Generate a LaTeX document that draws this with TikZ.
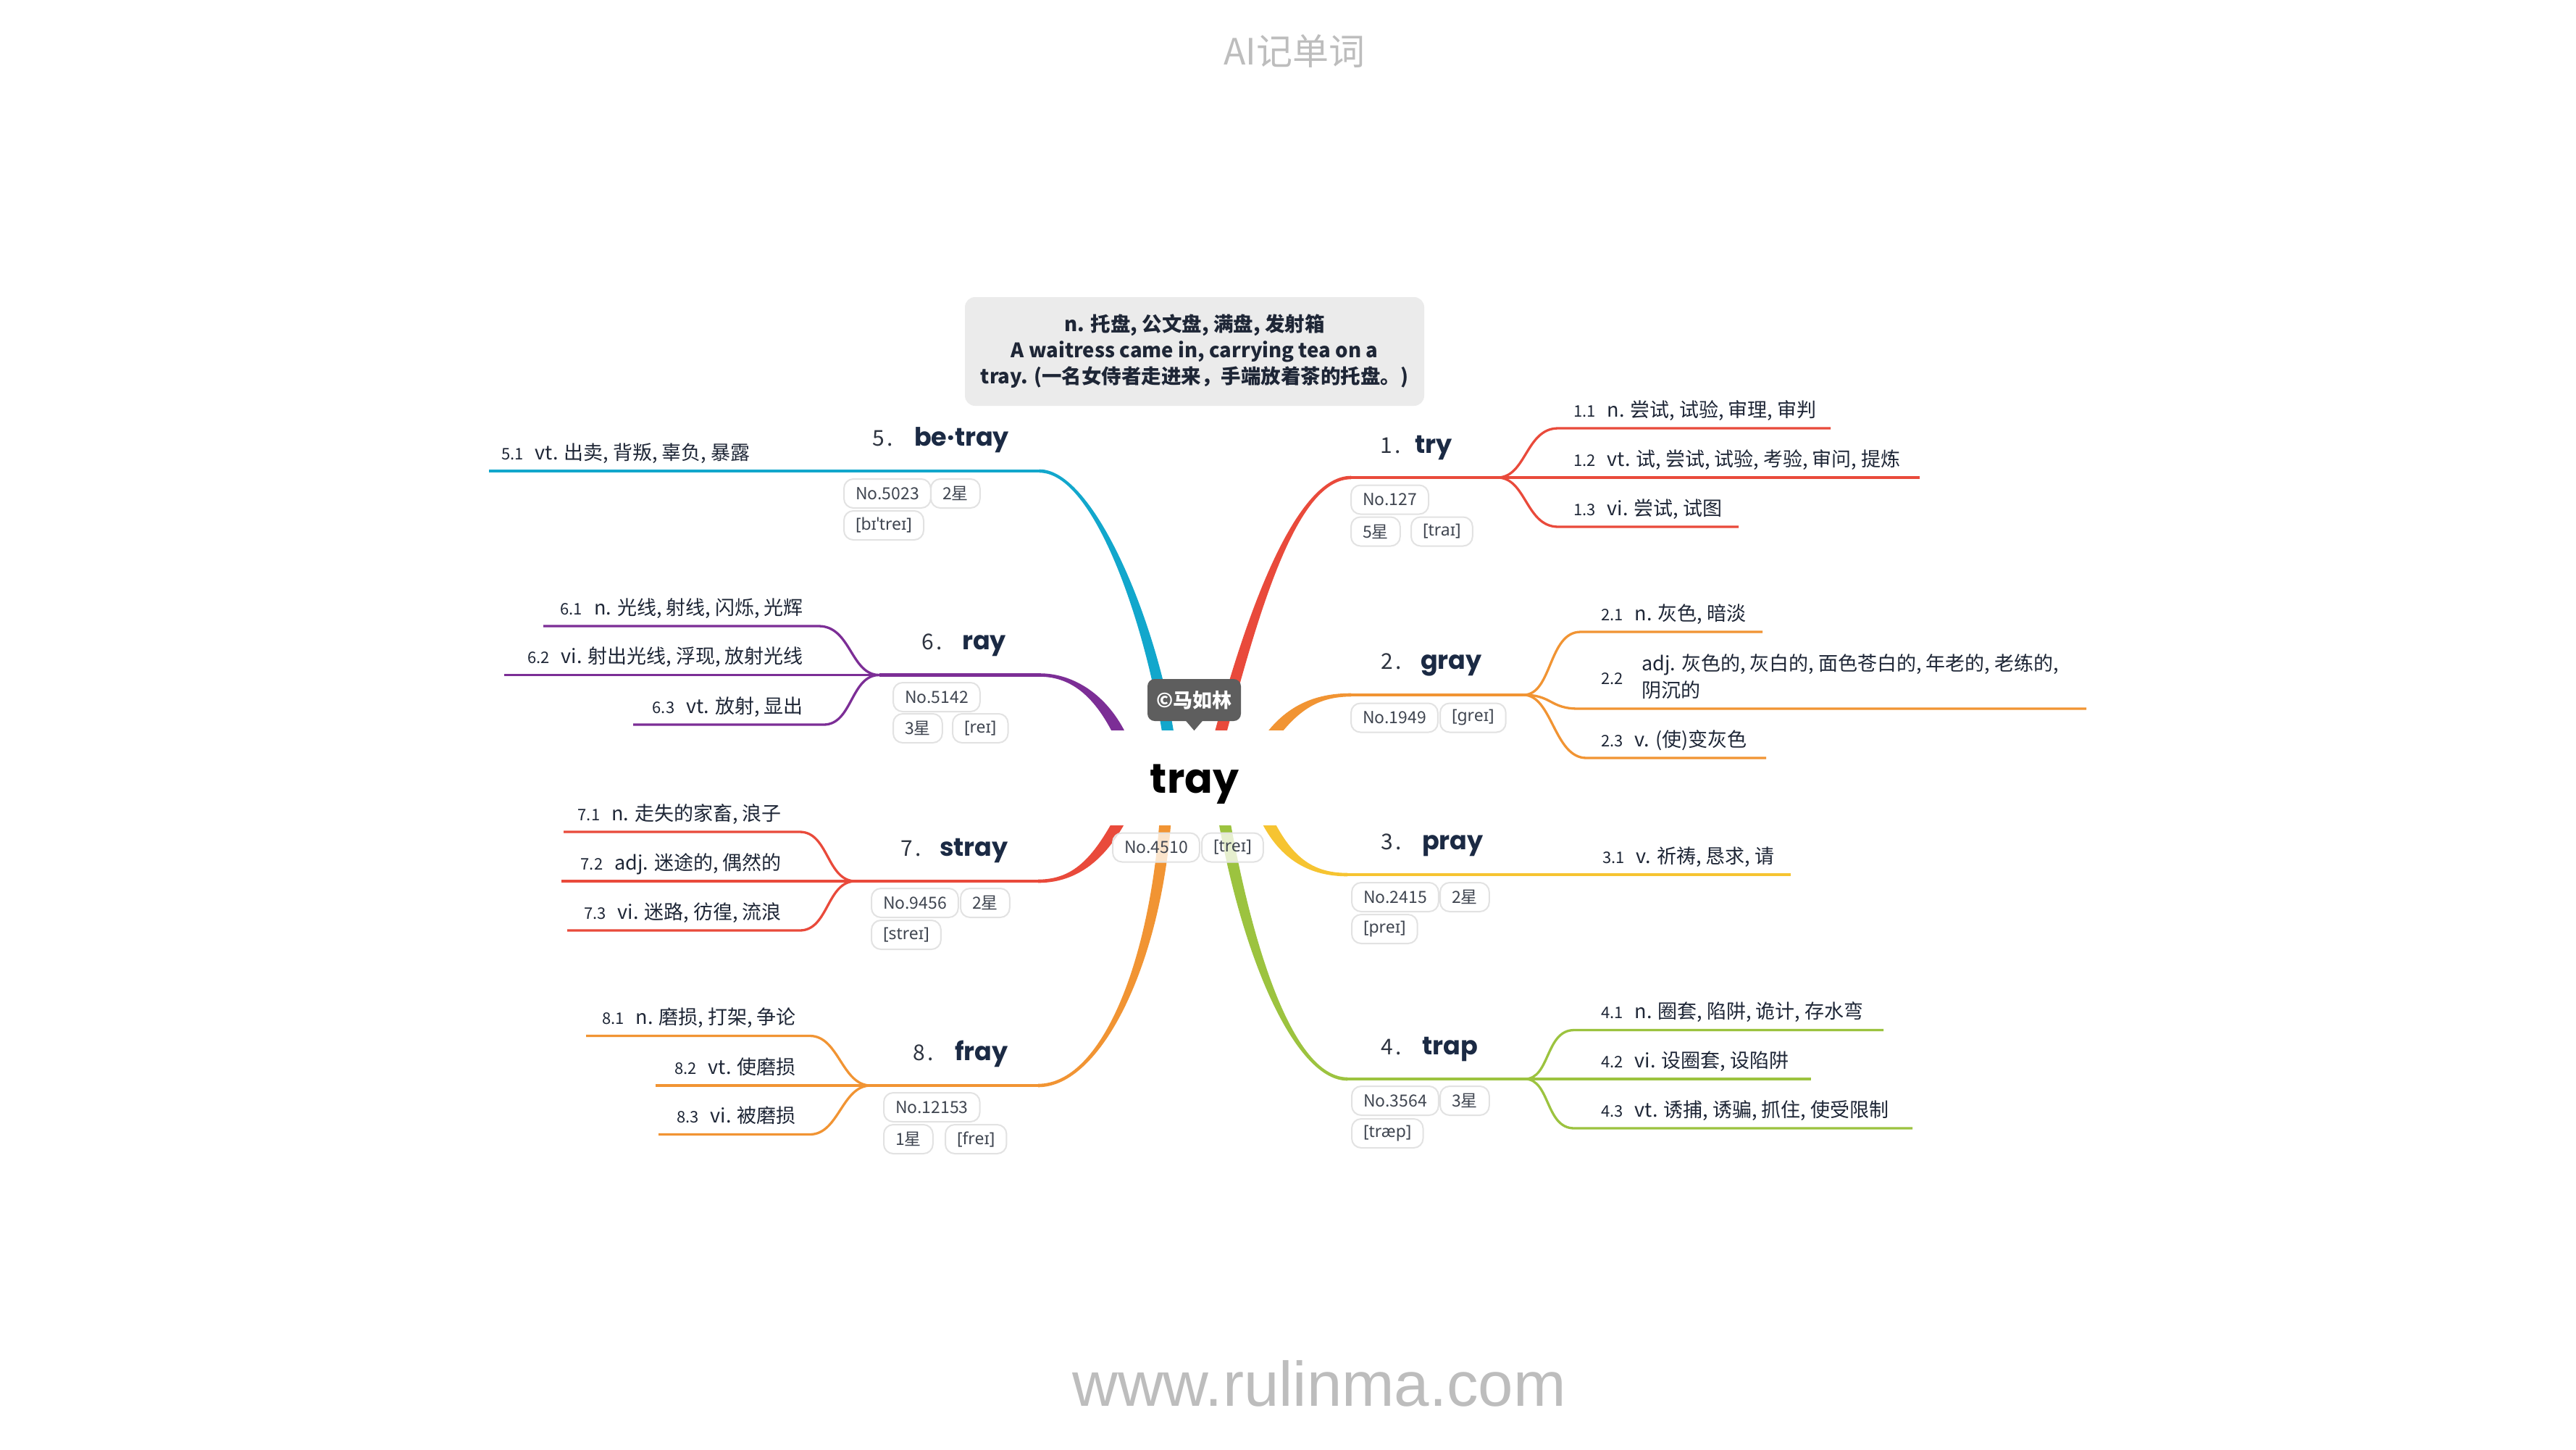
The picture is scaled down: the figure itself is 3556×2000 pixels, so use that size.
\documentclass[tikz,border=0pt]{standalone}
\usepackage{fontspec}
\setmainfont{Noto Sans CJK SC}
\newfontfamily\popf{Poppins}
\newfontfamily\ipaf{Noto Sans}
\newfontfamily\webf{Liberation Sans}
\usetikzlibrary{calc}
\definecolor{cRed}{HTML}{E94A3B}
\definecolor{cOrange}{HTML}{F19433}
\definecolor{cYellow}{HTML}{F6C431}
\definecolor{cGreen}{HTML}{9CC33F}
\definecolor{cCyan}{HTML}{12A7CC}
\definecolor{cPurple}{HTML}{7C2E96}
\definecolor{pillb}{HTML}{E2E2E2}
\definecolor{pillt}{HTML}{3F4550}
\definecolor{headc}{HTML}{1B2A44}
\definecolor{defc}{HTML}{1E2636}
\definecolor{numc}{HTML}{2E3440}
\definecolor{boxg}{HTML}{EBEBEB}
\definecolor{copyg}{HTML}{5E5E5E}
\definecolor{titleg}{HTML}{BDBDBD}
\newcommand\mmtaper[7]{%
  \fill[#1] ($(#2)!#6!90:(#3)$) .. controls ($(#3)!#6!-90:(#2)$) and ($(#4)!#7!90:(#5)$) .. ($(#5)!#7!-90:(#4)$)
   -- ($(#5)!#7!90:(#4)$) .. controls ($(#4)!#7!-90:(#5)$) and ($(#3)!#6!90:(#2)$) .. ($(#2)!#6!-90:(#3)$) -- cycle;}
\newcommand\dn[1]{{\fontsize{22}{26}\selectfont #1}\hspace{16pt}}
\tikzset{
  pill/.style={draw=pillb, line width=2pt, fill=white, fill opacity=0.75, text opacity=1,
    rounded corners=13pt, minimum height=40pt, inner xsep=16pt, inner ysep=0pt,
    text=pillt, font=\fontsize{23}{26}\selectfont, anchor=west},
  ipill/.style={pill, font=\ipaf\fontsize{23}{26}\selectfont},
  head/.style={font=\popf\bfseries\fontsize{35}{40}\selectfont, text=headc, inner sep=0pt, anchor=base west},
  hnum/.style={font=\fontsize{30}{34}\selectfont, text=numc, inner sep=0pt, anchor=base west},
  deft/.style={font=\fontsize{27}{35}\selectfont, text=defc, inner sep=0pt},
  mainln/.style={line width=4.5pt},
  subln/.style={line width=3.3pt},
}
\begin{document}
\begin{tikzpicture}[x=1pt,y=-1pt]
\useasboundingbox (0,0) rectangle (3556,2000);
\fill[white] (0,0) rectangle (3556,2000);

% ---------- title and footer
\node[font=\fontsize{50}{56}\selectfont, text=titleg, inner sep=0pt] (title) at (1787,71) {AI记单词};
\node[font=\webf\fontsize{87}{90}\selectfont, text=titleg, inner sep=0pt, anchor=base] (footer) at (1821,1940) {www.rulinma.com};

% ---------- coordinates
\coordinate (s1) at (1682,1022); \coordinate (h1) at (1865,659);  \coordinate (f1) at (2067,659);
\coordinate (s2) at (1752,1020); \coordinate (h2) at (1865,959);  \coordinate (f2) at (2103,959);
\coordinate (s3) at (1747,1128); \coordinate (h3) at (1860,1207); \coordinate (f3) at (2100,1207);
\coordinate (s4) at (1689,1127); \coordinate (h4) at (1860,1489); \coordinate (f4) at (2105,1489);
\coordinate (s5) at (1614,1022); \coordinate (h5) at (1435,650);  \coordinate (f5) at (1180,650);
\coordinate (s6) at (1549,1020); \coordinate (h6) at (1435,931.5); \coordinate (f6) at (1214,931.5);
\coordinate (s7) at (1548,1128); \coordinate (h7) at (1433,1216); \coordinate (f7) at (1181,1216);
\coordinate (s8) at (1609,1127); \coordinate (h8) at (1433,1498); \coordinate (f8) at (1202,1498);

% ---------- main tapered branches
\mmtaper{cRed}{s1}{1730,840}{1790,659}{h1}{8pt}{2.3pt}
\mmtaper{cOrange}{s2}{1785,975}{1820,959}{h2}{8pt}{2.3pt}
\mmtaper{cYellow}{s3}{1775,1185}{1810,1207}{h3}{8pt}{2.3pt}
\mmtaper{cGreen}{s4}{1725,1330}{1790,1489}{h4}{8pt}{2.3pt}
\mmtaper{cCyan}{s5}{1590,860}{1510,650}{h5}{8pt}{2.3pt}
\mmtaper{cPurple}{s6}{1522,962}{1482,931.5}{h6}{8pt}{2.3pt}
\mmtaper{cRed}{s7}{1515,1190}{1480,1216}{h7}{8pt}{2.3pt}
\mmtaper{cOrange}{s8}{1595,1330}{1520,1498}{h8}{8pt}{2.3pt}

\draw[mainln,cRed] (h1) -- (f1);
\draw[mainln,cOrange] (h2) -- (f2);
\draw[mainln,cYellow] (h3) -- (f3);
\draw[mainln,cGreen] (h4) -- (f4);
\draw[mainln,cCyan] (h5) -- (f5);
\draw[mainln,cPurple] (h6) -- (f6);
\draw[mainln,cRed] (h7) -- (f7);
\draw[mainln,cOrange] (h8) -- (f8);

% ---------- sub branches: right side
\draw[subln,cRed] (f1) .. controls +(40,0) and +(-45,0) .. (2151,591) -- (2527,591);
\draw[subln,cRed] (f1) -- (2650,659);
\draw[subln,cRed] (f1) .. controls +(40,0) and +(-45,0) .. (2151,727) -- (2400,727);

\draw[subln,cOrange] (f2) .. controls +(40,0) and +(-45,0) .. (2182,872) -- (2433,872);
\draw[subln,cOrange] (f2) .. controls +(40,0) and +(-40,0) .. (2179,978) -- (2880,978);
\draw[subln,cOrange] (f2) .. controls +(40,0) and +(-45,0) .. (2190,1046) -- (2438,1046);

\draw[subln,cYellow] (f3) -- (2472,1207);

\draw[subln,cGreen] (f4) .. controls +(35,0) and +(-40,0) .. (2173,1421.5) -- (2600,1421.5);
\draw[subln,cGreen] (f4) -- (2500,1489);
\draw[subln,cGreen] (f4) .. controls +(35,0) and +(-40,0) .. (2173,1557) -- (2640,1557);

% ---------- sub branches: left side
\draw[subln,cCyan] (f5) -- (675,650);

\draw[subln,cPurple] (f6) .. controls +(-40,0) and +(45,0) .. (1130,864) -- (750,864);
\draw[subln,cPurple] (f6) -- (696,931.5);
\draw[subln,cPurple] (f6) .. controls +(-40,0) and +(40,0) .. (1137,1000) -- (874,1000);

\draw[subln,cRed] (f7) .. controls +(-40,0) and +(40,0) .. (1104,1148) -- (778,1148);
\draw[subln,cRed] (f7) -- (775,1216);
\draw[subln,cRed] (f7) .. controls +(-40,0) and +(40,0) .. (1104,1284) -- (783,1284);

\draw[subln,cOrange] (f8) .. controls +(-40,0) and +(40,0) .. (1118,1429.5) -- (809,1429.5);
\draw[subln,cOrange] (f8) -- (905,1498);
\draw[subln,cOrange] (f8) .. controls +(-40,0) and +(40,0) .. (1118,1565.5) -- (909,1565.5);

% ---------- central topic
\node[fill=white, draw=none, minimum width=260pt, minimum height=131pt, inner sep=0pt] (hub) at (1650,1073.5) {};
\node[font=\popf\bfseries\fontsize{57}{62}\selectfont, text=black, inner sep=0pt, anchor=base] (root) at (1649,1094) {tray};
\node[fill=copyg, rounded corners=10pt, minimum width=129pt, minimum height=58pt, inner sep=0pt,
      text=white, font=\bfseries\fontsize{27}{30}\selectfont] (copy) at (1648.5,966) {©马如林};
\fill[copyg] ($(copy.south)+(-12,-1)$) -- ($(copy.south)+(12,-1)$) -- ($(copy.south)+(0,13)$) -- cycle;
\node[pill] (rno) at (1535,1169.5) {No.4510};
\node[ipill] (rph) at (1658,1169.5) {[treɪ]};

% ---------- definition box
\node[fill=boxg, rounded corners=14pt, minimum width=634pt, minimum height=150pt, inner sep=0pt,
      align=center, text=defc, font=\bfseries\fontsize{27.5}{36}\selectfont] (def) at (1649,485)
  {n. 托盘, 公文盘, 满盘, 发射箱\\A waitress came in, carrying tea on a\\tray. (一名女侍者走进来，手端放着茶的托盘。)};

% ---------- 1 try
\node[hnum] (n1) at (1905,625) {1\hspace{4pt}.};
\node[head] (w1) at (1953,625) {try};
\node[pill] (p1a) at (1864,689.5) {No.127};
\node[pill] (p1b) at (1864,733.5) {5星};
\node[ipill] (p1c) at (1947,733.5) {[traɪ]};
\node[deft, anchor=base west] (d11) at (2172,575) {\dn{1.1}n. 尝试, 试验, 审理, 审判};
\node[deft, anchor=base west] (d12) at (2172,643) {\dn{1.2}vt. 试, 尝试, 试验, 考验, 审问, 提炼};
\node[deft, anchor=base west] (d13) at (2172,711) {\dn{1.3}vi. 尝试, 试图};

% ---------- 2 gray
\node[hnum] (n2) at (1906,923) {2\hspace{4pt}.};
\node[head] (w2) at (1961,923) {gray};
\node[pill] (p2a) at (1864,990.5) {No.1949};
\node[ipill] (p2b) at (1987,990.5) {[greɪ]};
\node[deft, anchor=base west] (d21) at (2210,856) {\dn{2.1}n. 灰色, 暗淡};
\node[deft, anchor=base west, font=\fontsize{22}{26}\selectfont] (d22n) at (2210,944) {2.2};
\node[deft, anchor=base west] (d22a) at (2266,925) {adj. 灰色的, 灰白的, 面色苍白的, 年老的, 老练的,};
\node[deft, anchor=base west] (d22b) at (2266,962) {阴沉的};
\node[deft, anchor=base west] (d23) at (2210,1030) {\dn{2.3}v. (使)变灰色};

% ---------- 3 pray
\node[hnum] (n3) at (1906,1172) {3\hspace{4pt}.};
\node[head] (w3) at (1963,1172) {pray};
\node[pill] (p3a) at (1865,1238) {No.2415};
\node[pill] (p3b) at (1987,1238) {2星};
\node[ipill] (p3c) at (1865,1282) {[preɪ]};
\node[deft, anchor=base west] (d31) at (2212,1191) {\dn{3.1}v. 祈祷, 恳求, 请};

% ---------- 4 trap
\node[hnum] (n4) at (1906,1455) {4\hspace{4pt}.};
\node[head] (w4) at (1963,1455) {trap};
\node[pill] (p4a) at (1865,1519) {No.3564};
\node[pill] (p4b) at (1987,1519) {3星};
\node[ipill] (p4c) at (1865,1564) {[træp]};
\node[deft, anchor=base west] (d41) at (2210,1405) {\dn{4.1}n. 圈套, 陷阱, 诡计, 存水弯};
\node[deft, anchor=base west] (d42) at (2210,1473) {\dn{4.2}vi. 设圈套, 设陷阱};
\node[deft, anchor=base west] (d43) at (2210,1541) {\dn{4.3}vt. 诱捕, 诱骗, 抓住, 使受限制};

% ---------- 5 be-tray
\node[hnum] (n5) at (1204,615) {5\hspace{4pt}.};
\node[head] (w5) at (1262,615) {be·tray};
\node[pill] (p5a) at (1164,681) {No.5023};
\node[pill] (p5b) at (1284,681) {2星};
\node[ipill] (p5c) at (1164,725) {[bɪˈtreɪ]};
\node[deft, anchor=base west] (d51) at (692,634) {\dn{5.1}vt. 出卖, 背叛, 辜负, 暴露};

% ---------- 6 ray
\node[hnum] (n6) at (1272,896) {6\hspace{4pt}.};
\node[head] (w6) at (1328,896) {ray};
\node[pill] (p6a) at (1232,962) {No.5142};
\node[pill] (p6b) at (1232,1005) {3星};
\node[ipill] (p6c) at (1314,1005) {[reɪ]};
\node[deft, anchor=base east] (d61) at (1109,848) {\dn{6.1}n. 光线, 射线, 闪烁, 光辉};
\node[deft, anchor=base east] (d62) at (1109,915.5) {\dn{6.2}vi. 射出光线, 浮现, 放射光线};
\node[deft, anchor=base east] (d63) at (1109,984) {\dn{6.3}vt. 放射, 显出};

% ---------- 7 stray
\node[hnum] (n7) at (1243,1181) {7\hspace{4pt}.};
\node[head] (w7) at (1297,1181) {stray};
\node[pill] (p7a) at (1202,1246) {No.9456};
\node[pill] (p7b) at (1325,1246) {2星};
\node[ipill] (p7c) at (1202,1290) {[streɪ]};
\node[deft, anchor=base east] (d71) at (1079,1132) {\dn{7.1}n. 走失的家畜, 浪子};
\node[deft, anchor=base east] (d72) at (1079,1200) {\dn{7.2}adj. 迷途的, 偶然的};
\node[deft, anchor=base east] (d73) at (1079,1268) {\dn{7.3}vi. 迷路, 彷徨, 流浪};

% ---------- 8 fray
\node[hnum] (n8) at (1260,1463) {8\hspace{4pt}.};
\node[head] (w8) at (1318,1463) {fray};
\node[pill] (p8a) at (1219,1528) {No.12153};
\node[pill] (p8b) at (1219,1572) {1星};
\node[ipill] (p8c) at (1304,1572) {[freɪ]};
\node[deft, anchor=base east] (d81) at (1099,1413.5) {\dn{8.1}n. 磨损, 打架, 争论};
\node[deft, anchor=base east] (d82) at (1099,1482) {\dn{8.2}vt. 使磨损};
\node[deft, anchor=base east] (d83) at (1099,1549.5) {\dn{8.3}vi. 被磨损};
\end{tikzpicture}
\end{document}
